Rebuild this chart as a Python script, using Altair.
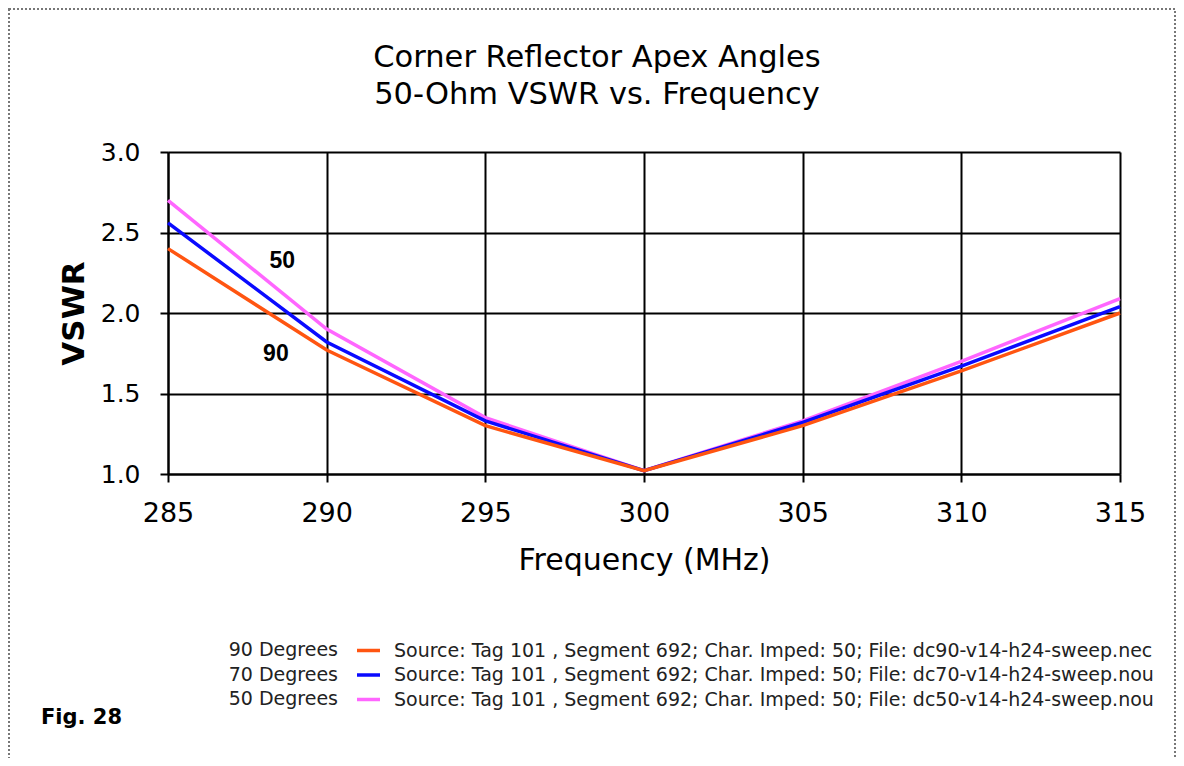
import altair as alt
import pandas as pd

# ---- data ----
freq = [285, 290, 295, 300, 305, 310, 315]
vswr_90 = [2.40, 1.77, 1.30, 1.02, 1.30, 1.64, 2.00]
vswr_70 = [2.56, 1.82, 1.33, 1.02, 1.32, 1.67, 2.04]
vswr_50 = [2.70, 1.90, 1.35, 1.02, 1.33, 1.70, 2.09]

degrees = ["90 Degrees", "70 Degrees", "50 Degrees"]
sources = [
    "Source: Tag 101 , Segment 692; Char. Imped: 50; File: dc90-v14-h24-sweep.nec",
    "Source: Tag 101 , Segment 692; Char. Imped: 50; File: dc70-v14-h24-sweep.nou",
    "Source: Tag 101 , Segment 692; Char. Imped: 50; File: dc50-v14-h24-sweep.nou",
]
colors = ["#FF5511", "#0A0AFF", "#FF66FF"]

x_ticks = [285, 290, 295, 300, 305, 310, 315]
y_ticks = [1.0, 1.5, 2.0, 2.5, 3.0]

annot_text = ["50", "90"]
annot_freq = [288.6, 288.4]
annot_vswr = [2.32, 1.745]

title_lines = ["Corner Reflector Apex Angles", "50-Ohm VSWR vs. Frequency"]
fig_label = "Fig. 28"

# ---- tables ----
rows = []
for deg, src, vals in zip(degrees, sources, [vswr_90, vswr_70, vswr_50]):
    for f, v in zip(freq, vals):
        rows.append({"degrees": deg, "source": src, "freq": f, "vswr": v})
df = pd.DataFrame(rows)
annot_df = pd.DataFrame({"t": annot_text, "freq": annot_freq, "vswr": annot_vswr})
one = pd.DataFrame({"a": [0]})

FONT = "DejaVu Sans"
W, H = 952, 322

x_scale = alt.Scale(domain=[285, 315], nice=False, zero=False)
y_scale = alt.Scale(domain=[1.0, 3.0], nice=False, zero=False)
color_scale = alt.Scale(domain=sources, range=colors)

x_axis = alt.Axis(values=x_ticks, title="Frequency (MHz)", labelFont=FONT, labelFontSize=27,
                  labelColor="black", labelPadding=18, labelFlush=False, tickSize=8, tickWidth=2,
                  tickColor="black", domainColor="black", domainWidth=2, grid=True,
                  gridColor="black", gridWidth=2, gridOpacity=1, titleFont=FONT, titleFontSize=30,
                  titleFontWeight="normal", titleColor="black", titlePadding=19, format="d")
y_axis = alt.Axis(values=y_ticks, title="VSWR", labelFont=FONT, labelFontSize=25,
                  labelColor="black", labelPadding=20, labelFlush=False, tickSize=8, tickWidth=2,
                  tickColor="black", domainColor="black", domainWidth=2, grid=True,
                  gridColor="black", gridWidth=2, gridOpacity=1, titleFont=FONT, titleFontSize=31,
                  titleFontWeight="bold", titleColor="black", titlePadding=10, format=".1f")

legend = alt.Legend(orient="none", legendX=187, legendY=485, title=None, symbolType="stroke",
                    symbolSize=529, symbolStrokeWidth=3.5, labelFont=FONT, labelFontSize=19,
                    labelColor="#222", labelLimit=900, labelOffset=12, rowPadding=0.5, padding=0)

base = alt.Chart(df)
line_layers = []
for deg in ["50 Degrees", "70 Degrees", "90 Degrees"]:
    line_layers.append(
        base.transform_filter(alt.datum.degrees == deg).mark_line(strokeWidth=3.5).encode(
            x=alt.X("freq:Q", scale=x_scale, axis=x_axis),
            y=alt.Y("vswr:Q", scale=y_scale, axis=y_axis),
            color=alt.Color("source:N", scale=color_scale, legend=legend),
        )
    )

annot = alt.Chart(annot_df).mark_text(font="Liberation Sans", fontSize=23, fontWeight="bold",
                                      color="black").encode(
    x=alt.X("freq:Q", scale=x_scale), y=alt.Y("vswr:Q", scale=y_scale), text="t:N")

deg_layers = []
for i, deg in enumerate(degrees):
    deg_layers.append(alt.Chart(one).mark_text(font=FONT, fontSize=19, align="right", baseline="middle",
                                               color="#222", text=deg).encode(
        x=alt.value(170), y=alt.value(498 + i * 24.5)))

title_layers = []
for i, t in enumerate(title_lines):
    title_layers.append(alt.Chart(one).mark_text(font=FONT, fontSize=30.5, fontWeight="normal",
                                                 align="center", baseline="middle", color="black",
                                                 text=t).encode(
        x=alt.value(429), y=alt.value(-94 + i * 37)))

fig = alt.Chart(one).mark_text(font=FONT, fontSize=21, fontWeight="bold", align="left",
                               baseline="middle", color="black", text=fig_label).encode(
    x=alt.value(-127), y=alt.value(566))

border = alt.Chart(one).mark_rect(filled=False, stroke="#777", strokeWidth=2,
                                  strokeDash=[2, 2]).encode(
    x=alt.value(-159), x2=alt.value(1007), y=alt.value(-143), y2=alt.value(700))

chart = alt.layer(border, *line_layers, annot, *deg_layers, *title_layers, fig).properties(
    width=W, height=H, autosize="none",
    padding={"left": 160, "top": 144, "right": 56, "bottom": 284},
    background="white",
).configure_view(stroke=None)

chart.save("out.html", embed_options={"renderer": "svg", "actions": False})
